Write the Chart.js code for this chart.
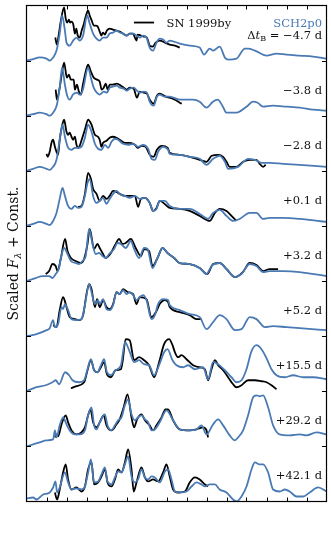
<!DOCTYPE html>
<html>
<head>
<meta charset="utf-8">
<script src="https://cdn.jsdelivr.net/npm/chart.js@4.4.1/dist/chart.umd.min.js"></script>
<style>
  html, body { margin: 0; padding: 0; background: #fff; }
  canvas { display: block; }
</style>
</head>
<body>
<canvas id="spectra" width="331" height="550"></canvas>
<script>
// wavelength (Angstrom), scaled flux above each panel's constant
const model0 = [[3000,0],[3165,1.5],[3330,3.3],[3500,2],[3580,0],[3665,3],[3750,10],[3830,27],[3890,45],[3960,30],[4000,18],[4080,15],[4165,20],[4250,23],[4330,20],[4415,25],[4515,45],[4580,37],[4665,27],[4750,22],[4830,20],[4915,23],[5000,23],[5080,27],[5165,28],[5250,30],[5330,28],[5415,27],[5500,25],[5580,27],[5665,27],[5750,25],[5830,23],[5915,25],[6000,23],[6080,13],[6165,10],[6250,18],[6330,22],[6415,21],[6500,18],[6580,20],[6830,17],[7080,15],[7330,13],[7440,6],[7580,12],[7665,10],[7830,14],[7960,3],[8040,1],[8250,2],[8460,12],[8540,12],[8710,10],[9000,5],[9250,7],[9500,6],[9830,5],[10165,4],[10500,2]];
const obs0 = [[3720,23],[3760,16],[3810,27],[3860,40],[3940,53],[3980,42],[4020,38],[4060,41],[4090,38],[4130,39],[4170,36],[4210,27],[4245,32],[4280,25],[4330,23],[4380,30],[4430,36],[4480,44],[4540,50],[4580,45],[4630,40],[4680,35],[4730,35],[4780,34],[4830,29],[4875,25],[4910,28],[4960,26],[5010,30],[5080,32],[5160,31],[5250,30],[5330,29],[5410,27],[5500,25],[5580,27],[5660,27],[5750,20],[5780,26],[5860,25],[5930,24],[6010,23],[6080,15],[6160,14],[6230,18],[6330,20],[6460,18],[6580,16],[6710,15],[6830,13]];

const model1 = [[3000,0],[3165,1.5],[3330,3],[3500,1.5],[3580,0],[3665,3],[3760,11],[3830,28],[3890,48],[3960,31],[4010,21],[4080,16],[4160,21],[4260,23],[4330,21],[4410,26],[4540,48],[4610,38],[4680,28],[4760,23],[4830,21],[4930,24],[5010,23],[5080,28],[5160,29],[5260,30],[5330,28],[5430,27],[5510,25],[5580,27],[5680,28],[5760,25],[5830,23],[5930,24],[6010,23],[6080,14],[6180,10],[6260,19],[6330,21],[6460,19],[6580,19],[6830,16],[7160,16],[7330,14],[7500,8],[7660,14],[7780,16],[7910,9],[8000,3],[8250,3],[8500,9],[8660,14],[8780,13],[8910,9],[9160,10],[9510,9],[9830,8],[10160,6],[10500,5]];
const obs1 = [[3730,26],[3760,16],[3830,28],[3880,41],[3940,53],[4010,38],[4060,41],[4110,36],[4180,36],[4210,26],[4260,31],[4310,24],[4360,21],[4410,31],[4480,44],[4540,51],[4610,44],[4680,38],[4760,36],[4830,34],[4880,26],[4930,28],[4980,32],[5030,26],[5080,31],[5160,31],[5260,32],[5360,30],[5430,28],[5510,26],[5580,28],[5680,27],[5760,18],[5830,24],[5930,23],[6010,22],[6080,16],[6180,12],[6260,20],[6330,22],[6480,19],[6580,18],[6710,16],[6830,13],[6880,12]];

const model2 = [[3000,0],[3165,2],[3330,4],[3500,2],[3580,1],[3665,4],[3750,11],[3830,31],[3900,46],[3960,34],[4040,23],[4125,21],[4210,23],[4290,23],[4375,24],[4460,33],[4540,46],[4625,39],[4710,27],[4790,22],[4875,21],[4960,26],[5040,23],[5125,29],[5210,32],[5290,31],[5415,27],[5540,26],[5665,27],[5790,24],[5915,26],[6040,22],[6125,12],[6210,11],[6290,19],[6415,24],[6540,21],[6580,17],[6830,16],[7080,14],[7330,12],[7500,6],[7665,12],[7830,15],[7960,9],[8040,2],[8290,4],[8540,12],[8710,11],[8875,8],[9080,8],[9415,7],[9830,6],[10500,4]];
const obs2 = [[3500,17],[3530,14],[3580,19],[3625,28],[3665,31],[3710,24],[3750,19],[3790,16],[3830,31],[3880,43],[3940,51],[4000,39],[4040,36],[4080,38],[4125,34],[4165,31],[4210,34],[4250,26],[4290,23],[4330,25],[4380,31],[4460,41],[4540,51],[4625,46],[4710,36],[4790,34],[4830,31],[4875,24],[4915,28],[5000,30],[5080,33],[5160,34],[5250,33],[5330,31],[5460,28],[5580,28],[5710,26],[5780,23],[5880,25],[5980,24],[6080,16],[6180,14],[6260,21],[6380,25],[6530,23],[6580,18],[6830,16],[7080,14],[7330,11],[7500,9],[7630,15],[7790,16],[7915,14],[8000,9],[8080,4],[8250,4],[8415,9],[8580,11],[8750,11],[8830,7],[8915,4],[8980,6]];

const model3 = [[3000,0],[3165,2],[3330,4],[3500,2],[3580,1],[3665,5],[3750,13],[3830,27],[3900,38],[3960,30],[4040,20],[4125,17],[4210,20],[4290,18],[4375,19],[4460,30],[4520,42],[4580,47],[4665,30],[4750,23],[4830,25],[4915,28],[5000,22],[5080,27],[5165,32],[5250,35],[5330,32],[5460,30],[5580,28],[5710,30],[5830,27],[5960,28],[6080,23],[6165,15],[6250,17],[6330,25],[6460,25],[6580,20],[6830,17],[7080,17],[7330,12],[7540,7],[7665,13],[7830,16],[8000,10],[8165,5],[8330,7],[8580,13],[8750,13],[8915,7],[9080,8],[9415,8],[9830,7],[10500,4]];
const obs3 = [[4290,19],[4375,20],[4460,32],[4540,53],[4610,47],[4665,37],[4750,32],[4830,25],[4915,30],[5000,27],[5080,30],[5165,35],[5250,34],[5330,32],[5460,30],[5580,30],[5710,30],[5790,19],[5860,27],[5960,28],[6080,23],[6165,15],[6250,18],[6330,25],[6580,18],[6830,17],[7080,15],[7330,10],[7580,5],[7710,13],[7830,17],[8000,15],[8125,10],[8250,5]];

const model4 = [[3000,0],[3230,3],[3400,5],[3565,5],[3650,3],[3730,7],[3815,13],[3860,23],[3940,33],[4025,27],[4110,20],[4230,18],[4315,17],[4400,20],[4480,25],[4565,52],[4650,37],[4730,27],[4815,28],[4900,25],[4980,23],[5065,27],[5190,32],[5275,38],[5360,37],[5480,33],[5610,40],[5690,32],[5815,23],[5940,33],[6025,32],[6150,13],[6275,23],[6400,33],[6525,28],[6690,23],[6830,18],[7080,17],[7330,13],[7500,7],[7625,15],[7830,18],[8000,12],[8210,4],[8375,7],[8580,17],[8750,15],[8915,9],[9080,10],[9415,10],[9830,9],[10500,5]];
const obs4 = [[3480,7],[3565,10],[3650,17],[3730,15],[3775,10],[3860,23],[3965,42],[4025,30],[4110,23],[4230,20],[4360,18],[4440,22],[4525,37],[4580,52],[4690,32],[4775,37],[4830,33],[4900,28],[4980,23],[5110,28],[5230,37],[5315,42],[5400,37],[5480,38],[5610,42],[5730,33],[5860,25],[5940,32],[6065,30],[6150,15],[6275,23],[6400,33],[6525,28],[6690,23],[6830,18],[7080,17],[7330,13],[7520,7],[7665,17],[7830,18],[8000,12],[8210,4],[8410,9],[8580,18],[8750,16],[8915,10],[9080,12],[9250,12],[9290,12]];

const model5 = [[3000,0],[3250,2],[3500,6],[3580,8],[3665,16],[3710,9],[3790,12],[3875,29],[3915,27],[3960,32],[4040,26],[4125,17],[4250,16],[4375,17],[4460,31],[4565,52],[4625,44],[4710,32],[4790,36],[4830,32],[4915,37],[5000,27],[5080,26],[5165,31],[5250,44],[5330,42],[5415,46],[5500,42],[5580,44],[5665,41],[5750,36],[5830,39],[5915,41],[6000,36],[6125,17],[6210,21],[6290,32],[6415,37],[6540,36],[6580,31],[6830,26],[7080,22],[7330,19],[7500,7],[7665,14],[7830,21],[8000,17],[8210,6],[8375,7],[8580,19],[8750,17],[8960,9],[9165,10],[9500,9],[9830,8],[10500,6]];
const obs5 = [[3665,11],[3750,9],[3830,26],[3915,39],[3960,35],[4000,29],[4080,19],[4210,17],[4330,16],[4415,21],[4500,42],[4565,52],[4625,47],[4710,29],[4765,37],[4830,29],[4915,36],[5000,29],[5080,27],[5165,32],[5250,44],[5330,42],[5415,47],[5530,44],[5665,42],[5750,32],[5830,39],[6000,37],[6125,19],[6250,25],[6330,32],[6460,36],[6540,34],[6580,29],[6830,24],[7080,21],[7250,17],[7375,17]];

const model6 = [[3000,0],[3230,4],[3480,6],[3650,9],[3730,11],[3815,7],[3965,19],[4065,16],[4150,11],[4315,9],[4440,11],[4525,22],[4610,32],[4690,21],[4775,19],[4860,26],[4940,32],[5010,19],[5110,16],[5230,21],[5360,26],[5465,49],[5565,41],[5690,29],[5815,31],[5940,27],[6065,26],[6190,16],[6315,26],[6440,39],[6525,42],[6650,31],[6750,26],[6915,24],[7040,26],[7210,22],[7415,24],[7540,12],[7665,29],[7790,27],[7960,21],[8125,14],[8250,9],[8375,11],[8500,22],[8625,40],[8750,46],[8875,42],[9000,33],[9125,22],[9250,16],[9460,14],[9665,16],[9915,14],[10165,14],[10500,12]];
const obs6 = [[4110,3],[4230,5],[4440,9],[4525,21],[4610,31],[4690,21],[4775,19],[4860,24],[4940,29],[5010,17],[5110,14],[5230,21],[5360,22],[5400,29],[5480,52],[5580,51],[5690,31],[5815,34],[5940,31],[6065,26],[6190,14],[6315,29],[6440,47],[6565,52],[6650,46],[6710,39],[6790,34],[6875,36],[7000,32],[7165,26],[7330,24],[7460,22],[7540,11],[7625,22],[7710,31],[7790,26],[7915,21],[8040,14],[8165,7],[8250,4],[8375,6],[8540,11],[8710,11],[8875,10],[9000,9],[9125,6],[9250,2]];

const model7 = [[3000,0],[3165,2],[3330,4],[3500,6],[3665,7],[3710,16],[3750,9],[3830,21],[3915,29],[4000,22],[4080,16],[4210,12],[4330,12],[4460,16],[4540,31],[4625,39],[4690,21],[4750,17],[4830,24],[4960,32],[5025,21],[5125,16],[5210,21],[5290,26],[5375,29],[5460,41],[5540,47],[5625,32],[5710,26],[5790,29],[5875,31],[5960,27],[6040,24],[6125,16],[6210,17],[6330,24],[6500,36],[6665,26],[6830,17],[7080,16],[7250,17],[7375,21],[7500,12],[7665,22],[7790,27],[7915,21],[8080,11],[8210,6],[8290,9],[8415,16],[8540,31],[8665,49],[8750,51],[8830,50],[8915,51],[9040,39],[9165,21],[9330,12],[9580,11],[9830,12],[10000,11],[10250,14],[10500,12]];
const obs7 = [[3710,9],[3750,12],[3790,10],[3875,22],[3980,31],[4040,24],[4125,16],[4250,12],[4375,14],[4460,19],[4540,31],[4600,37],[4665,24],[4750,19],[4830,24],[4930,31],[5000,21],[5125,16],[5250,22],[5330,27],[5430,39],[5525,52],[5625,29],[5690,19],[5765,27],[5875,32],[5960,26],[6080,21],[6165,16],[6250,21],[6375,29],[6475,37],[6540,37],[6665,26],[6830,17],[7080,16],[7250,17],[7415,19],[7500,16],[7540,9]];

const model8 = [[3000,3],[3165,4],[3250,2],[3415,7],[3580,9],[3665,14],[3725,20],[3765,9],[3830,14],[3960,29],[4040,19],[4125,12],[4250,13],[4375,12],[4460,15],[4540,29],[4610,42],[4690,19],[4790,20],[4875,27],[4960,34],[5025,20],[5125,17],[5210,24],[5290,30],[5375,29],[5460,37],[5540,45],[5625,25],[5710,19],[5790,22],[5875,32],[5960,24],[6040,22],[6125,25],[6210,24],[6330,19],[6460,30],[6540,32],[6625,22],[6710,10],[6830,9],[7000,10],[7125,15],[7250,19],[7375,17],[7460,15],[7580,17],[7710,17],[7830,12],[8000,9],[8165,2],[8250,0],[8375,5],[8500,15],[8625,32],[8710,39],[8830,37],[8915,37],[9040,29],[9165,12],[9330,10],[9460,12],[9580,10],[9750,5],[9915,5],[10080,9],[10290,14],[10500,10]];
const obs8 = [[3710,9],[3765,2],[3830,12],[3915,29],[3980,37],[4040,22],[4125,12],[4250,14],[4375,10],[4460,15],[4540,32],[4625,39],[4690,17],[4790,19],[4875,25],[4960,32],[5025,19],[5125,15],[5210,22],[5290,32],[5375,29],[5460,39],[5540,52],[5625,32],[5680,10],[5750,19],[5875,34],[5960,24],[6040,20],[6165,22],[6290,20],[6415,29],[6500,37],[6580,25],[6665,12],[6790,9],[6960,10],[7080,19],[7210,24],[7330,22],[7460,17],[7540,15]];

const models = [model0, model1, model2, model3, model4, model5, model6, model7, model8];
const observed = [obs0, obs1, obs2, obs3, obs4, obs5, obs6, obs7, obs8];
const offsets = [440, 385, 330, 275, 220, 165, 110, 55, 0];
const epochLabels = ['−4.7 d', '−3.8 d', '−2.8 d', '+0.1 d', '+3.2 d', '+5.2 d', '+15.5 d', '+29.2 d', '+42.1 d'];
const xTicks = [3500, 4000, 4500, 5000, 5500, 6000, 6500, 7000, 7500, 8000, 8500, 9000, 9500, 10000];
const yTicks = [55, 110, 165, 220, 275, 330, 385, 440];

const modelColor = '#4a7ab4';
const serif = '"DejaVu Serif", serif';

function shift(spectrum, offset) {
  return spectrum.map(([wave, flux]) => ({ x: wave, y: flux + offset }));
}

const datasets = [];
models.forEach((model, i) => {
  datasets.push({
    label: 'SCH2p0',
    data: shift(model, offsets[i]),
    borderColor: modelColor,
    borderWidth: 1.8,
    order: 0,
  });
});
observed.forEach((obs, i) => {
  datasets.push({
    label: 'SN 1999by',
    data: shift(obs, offsets[i]),
    borderColor: '#000',
    borderWidth: 1.8,
    order: 1,
  });
});

// draw a run of text pieces that may change font or shift down (subscripts)
function richText(ctx, parts, x, y, align) {
  const widths = parts.map((p) => {
    ctx.font = p.font;
    return ctx.measureText(p.text).width;
  });
  const total = widths.reduce((s, w) => s + w, 0);
  let cx = x;
  if (align === 'right') cx = x - total;
  if (align === 'center') cx = x - total / 2;
  parts.forEach((p, i) => {
    ctx.font = p.font;
    ctx.fillText(p.text, cx, y + (p.dy || 0));
    cx += widths[i];
  });
}

const decorations = {
  id: 'decorations',
  afterDatasetsDraw(chart) {
    const { ctx, chartArea: area } = chart;
    const xScale = chart.scales.x;
    const yScale = chart.scales.y;
    ctx.save();

    // frame and inward ticks
    ctx.strokeStyle = '#000';
    ctx.lineWidth = 1.2;
    ctx.strokeRect(area.left, area.top, area.right - area.left, area.bottom - area.top);
    ctx.lineWidth = 1;
    ctx.beginPath();
    xTicks.forEach((w) => {
      const px = Math.round(xScale.getPixelForValue(w)) + 0.5;
      ctx.moveTo(px, area.bottom);
      ctx.lineTo(px, area.bottom - 4);
      ctx.moveTo(px, area.top);
      ctx.lineTo(px, area.top + 4);
    });
    yTicks.forEach((v) => {
      const py = Math.round(yScale.getPixelForValue(v)) + 0.5;
      ctx.moveTo(area.left, py);
      ctx.lineTo(area.left + 4.5, py);
      ctx.moveTo(area.right, py);
      ctx.lineTo(area.right - 4.5, py);
    });
    ctx.stroke();

    // epoch labels
    ctx.fillStyle = '#111';
    ctx.textBaseline = 'alphabetic';
    const right = area.right - 4.5;
    const normal = '11.5px ' + serif;
    epochLabels.forEach((text, i) => {
      const y = yScale.getPixelForValue(offsets[i] + 22);
      if (i === 0) {
        richText(ctx, [
          { text: 'Δ', font: normal },
          { text: 't', font: 'italic 11.5px ' + serif },
          { text: 'B', font: '8px ' + serif, dy: 2.5 },
          { text: ' = ' + text, font: normal },
        ], right, y, 'right');
      } else {
        richText(ctx, [{ text, font: normal }], right, y, 'right');
      }
    });

    // legend
    const legendY = yScale.getPixelForValue(offsets[0] + 34);
    ctx.strokeStyle = '#000';
    ctx.lineWidth = 1.8;
    ctx.beginPath();
    ctx.moveTo(area.left + 107.5, legendY - 4);
    ctx.lineTo(area.left + 127.5, legendY - 4);
    ctx.stroke();
    richText(ctx, [{ text: 'SN 1999by', font: normal }], area.left + 140, legendY, 'left');
    ctx.fillStyle = modelColor;
    richText(ctx, [{ text: 'SCH2p0', font: normal }], right, legendY, 'right');

    // y axis title
    ctx.fillStyle = '#111';
    ctx.translate(17.5, (area.top + area.bottom) / 2);
    ctx.rotate(-Math.PI / 2);
    richText(ctx, [
      { text: 'Scaled ', font: '14px ' + serif },
      { text: 'F', font: 'italic 14px ' + serif },
      { text: 'λ', font: 'italic 10px ' + serif, dy: 3 },
      { text: ' + Const.', font: '14px ' + serif },
    ], 0, 0, 'center');

    ctx.restore();
  },
};

new Chart(document.getElementById('spectra'), {
  type: 'line',
  data: { datasets },
  options: {
    responsive: false,
    devicePixelRatio: 1,
    animation: false,
    layout: { padding: { left: 26.5, right: 4.5, top: 5.5, bottom: 48.5 } },
    elements: {
      point: { radius: 0 },
      line: { tension: 0, cubicInterpolationMode: 'monotone', fill: false, borderJoinStyle: 'round' },
    },
    scales: {
      x: { type: 'linear', min: 3000, max: 10500, display: false },
      y: { type: 'linear', min: 0, max: 495, display: false },
    },
    plugins: {
      legend: { display: false },
      tooltip: { enabled: false },
    },
  },
  plugins: [decorations],
});
</script>
</body>
</html>
